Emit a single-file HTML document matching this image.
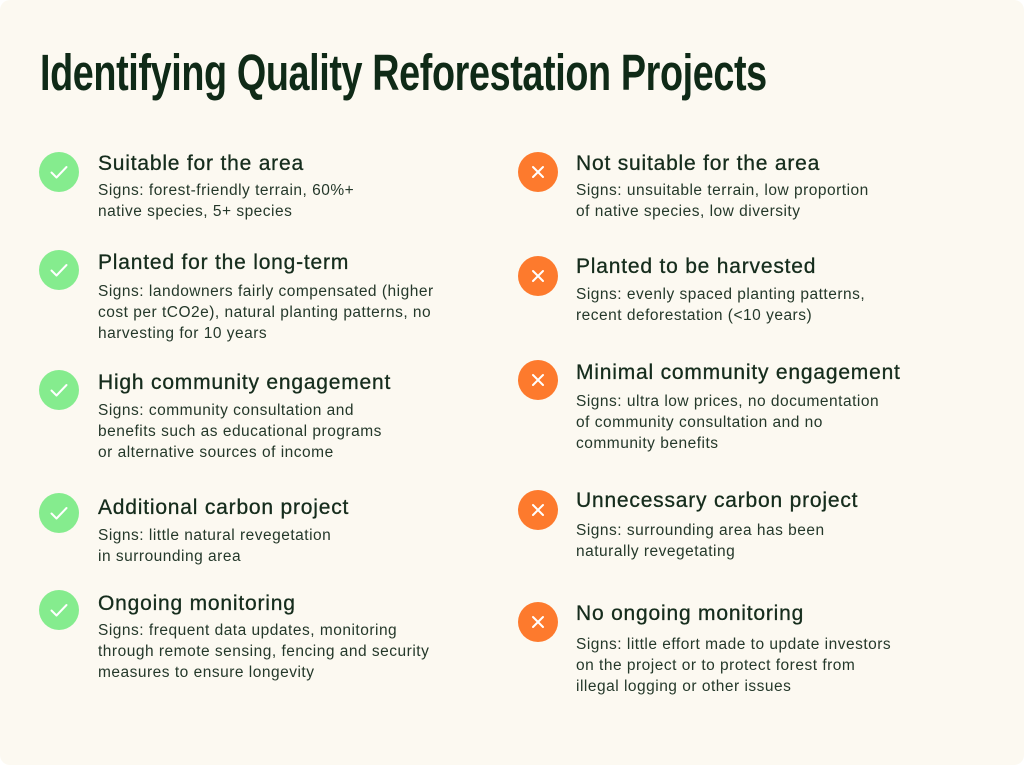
<!DOCTYPE html>
<html><head><meta charset="utf-8"><style>
html,body{margin:0;padding:0;background:#fff;}
#card{position:relative;width:1024px;height:765px;background:#fcf9f1;border-radius:10px;overflow:hidden;font-family:"Liberation Sans",sans-serif;color:#17301f;}
#title{position:absolute;left:40px;top:43px;font-size:51px;font-weight:bold;color:#0f2a17;white-space:nowrap;transform:scaleX(0.74);transform-origin:left top;letter-spacing:-0.5px;}
.icon{position:absolute;width:40px;height:40px;border-radius:50%;}
.ok{background:#85ec8e;}
.bad{background:#fd7a2d;}
.icon svg{position:absolute;left:0;top:0;}
.h{position:absolute;font-size:21px;line-height:24px;letter-spacing:0.8px;white-space:nowrap;color:#152c1c;-webkit-text-stroke:0.3px #152c1c;}
.b{position:absolute;font-size:15.5px;line-height:21px;letter-spacing:0.5px;white-space:nowrap;color:#24382a;}
</style></head><body>
<div id="card">
<div id="title">Identifying Quality Reforestation Projects</div>
<div id="items"></div>
</div>
<script>
var leftItems=[
 {h:"Suitable for the area",hy:164,iy:172,lines:["Signs: forest-friendly terrain, 60%+","native species, 5+ species"],ly:190},
 {h:"Planted for the long-term",hy:263,iy:270,lines:["Signs: landowners fairly compensated (higher","cost per tCO2e), natural planting patterns, no","harvesting for 10 years"],ly:291},
 {h:"High community engagement",hy:383,iy:390,lines:["Signs: community consultation and","benefits such as educational programs","or alternative sources of income"],ly:410},
 {h:"Additional carbon project",hy:508,iy:513,lines:["Signs: little natural revegetation","in surrounding area"],ly:535},
 {h:"Ongoing monitoring",hy:604,iy:610,lines:["Signs: frequent data updates, monitoring","through remote sensing, fencing and security","measures to ensure longevity"],ly:630}
];
var rightItems=[
 {h:"Not suitable for the area",hy:164,iy:172,lines:["Signs: unsuitable terrain, low proportion","of native species, low diversity"],ly:190},
 {h:"Planted to be harvested",hy:267,iy:276,lines:["Signs: evenly spaced planting patterns,","recent deforestation (<10 years)"],ly:294},
 {h:"Minimal community engagement",hy:373,iy:380,lines:["Signs: ultra low prices, no documentation","of community consultation and no","community benefits"],ly:401},
 {h:"Unnecessary carbon project",hy:501,iy:510,lines:["Signs: surrounding area has been","naturally revegetating"],ly:530},
 {h:"No ongoing monitoring",hy:614,iy:622,lines:["Signs: little effort made to update investors","on the project or to protect forest from","illegal logging or other issues"],ly:644}
];
var root=document.getElementById('items');
function build(list,ix,tx,good){
 list.forEach(function(it,i){
  var ic=document.createElement('div');
  ic.className='icon '+(good?'ok':'bad');
  ic.style.left=(ix-20)+'px';ic.style.top=(it.iy-20)+'px';
  
  
  ic.innerHTML=good?'<svg width="40" height="40"><path d="M12.5 20.5 L17.5 25.5 L27.5 15" fill="none" stroke="#fff" stroke-width="2" stroke-linecap="round" stroke-linejoin="round"/></svg>':'<svg width="40" height="40"><path d="M15 15 L25 25 M25 15 L15 25" fill="none" stroke="#fff" stroke-width="2" stroke-linecap="round"/></svg>';
  root.appendChild(ic);
  var h=document.createElement('div');
  h.className='h';h.textContent=it.h;
  h.style.left=tx+'px';h.style.top=(it.hy-12)+'px';
  
  
  root.appendChild(h);
  it.lines.forEach(function(t,j){
   var b=document.createElement('div');
   b.className='b';b.textContent=t;
   b.style.left=tx+'px';b.style.top=(it.ly+j*21-10.5)+'px';
   
   
   root.appendChild(b);
  });
 });
}
build(leftItems,59,98,true);
build(rightItems,538,576,false);
</script>
</body></html>
